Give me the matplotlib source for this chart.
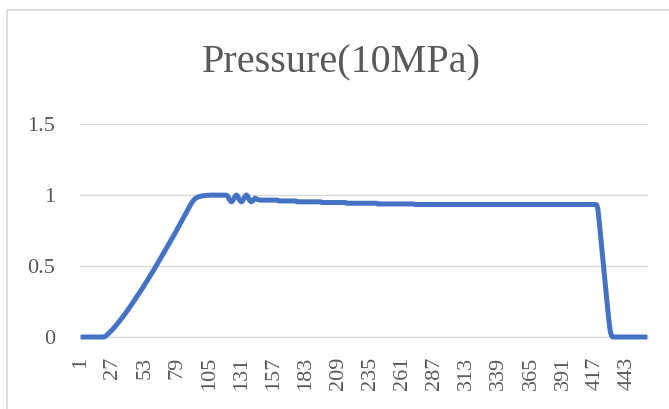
import matplotlib
matplotlib.use("Agg")
import matplotlib.pyplot as plt
from matplotlib.patches import Rectangle
import numpy as np

plt.rcParams['font.family'] = ['Liberation Serif', 'DejaVu Serif']

# pressure samples (units of 10 MPa)
idle_start = [0] * 20
ramp_up = [0.005, 0.012, 0.02, 0.028, 0.037, 0.046, 0.055, 0.065, 0.075, 0.085,
           0.096, 0.107, 0.118, 0.129, 0.14, 0.152, 0.164, 0.176, 0.188, 0.2,
           0.213, 0.226, 0.239, 0.252, 0.265, 0.278, 0.291, 0.304, 0.317, 0.33,
           0.344, 0.358, 0.372, 0.386, 0.4, 0.414, 0.428, 0.442, 0.456, 0.47,
           0.485, 0.5, 0.515, 0.53, 0.545, 0.56, 0.575, 0.59, 0.605, 0.62,
           0.635, 0.65, 0.665, 0.68, 0.695, 0.71, 0.726, 0.742, 0.758, 0.774,
           0.79, 0.806, 0.822, 0.838, 0.854, 0.87, 0.886, 0.902, 0.918, 0.934,
           0.948, 0.96, 0.97, 0.977, 0.982, 0.986, 0.989, 0.991, 0.993]
peak = [0.995, 0.996, 0.997, 0.997, 0.998, 0.998] + [0.999] * 13
ripple = [0.998, 0.99, 0.972, 0.958, 0.952, 0.96, 0.976, 0.993, 1.0,
          0.99, 0.972, 0.958, 0.952, 0.96, 0.976, 0.993, 1.0,
          0.99, 0.972, 0.958, 0.952, 0.958, 0.97, 0.978, 0.972, 0.968, 0.966]
settle = ([0.964] * 15 + [0.958] * 15 + [0.952] * 20 + [0.947] * 20
          + [0.942] * 25 + [0.937] * 30)
hold = [0.933] * 147
release = [0.932, 0.9, 0.82, 0.73, 0.64, 0.55, 0.46, 0.37, 0.28, 0.19, 0.11, 0.04, 0.01]
idle_end = [0] * 29

pressure = idle_start + ramp_up + peak + ripple + settle + hold + release + idle_end
samples = np.arange(1, len(pressure) + 1)
y_ticks = [0, 0.5, 1, 1.5]

W, H = 669, 409
fig = plt.figure(figsize=(W / 100, H / 100), dpi=100)
fig.patch.set_facecolor('white')

# chart area border (cropped at right/bottom)
fig.patches.append(Rectangle((7 / W, -0.05), 1.0, 1 - 10 / H + 0.05,
                             transform=fig.transFigure, fill=False,
                             edgecolor='#D9D9D9', lw=1.2))

ax = fig.add_axes([80 / W, 1 - 337 / H, 568 / W, 213 / H])
ax.plot(samples, pressure, color='#4472C4', lw=3.6, solid_joinstyle='round',
        solid_capstyle='butt', clip_on=False, zorder=3)

ax.set_xlim(0.5, len(pressure) + 0.5)
ax.set_ylim(0, 1.5)
ax.set_yticks(y_ticks)
ax.set_yticklabels(['0', '0.5', '1', '1.5'])
ax.set_xticks(samples[::26])
ax.set_xticklabels([str(s) for s in samples[::26]], rotation=90)

ax.grid(axis='y', color='#D9D9D9', lw=1)
ax.set_axisbelow(True)
for side in ['top', 'left', 'right']:
    ax.spines[side].set_visible(False)
ax.spines['bottom'].set_color('#D9D9D9')
ax.spines['bottom'].set_linewidth(1)
ax.tick_params(axis='x', length=0, pad=14, labelsize=16, labelcolor='#595959')
ax.tick_params(axis='y', length=0, pad=18, labelsize=16, labelcolor='#595959')

fig.text(341 / W, 1 - 63 / H, 'Pressure(10MPa)', ha='center', va='center',
         fontsize=29, color='#595959')

fig.savefig('out.png', dpi=100)
